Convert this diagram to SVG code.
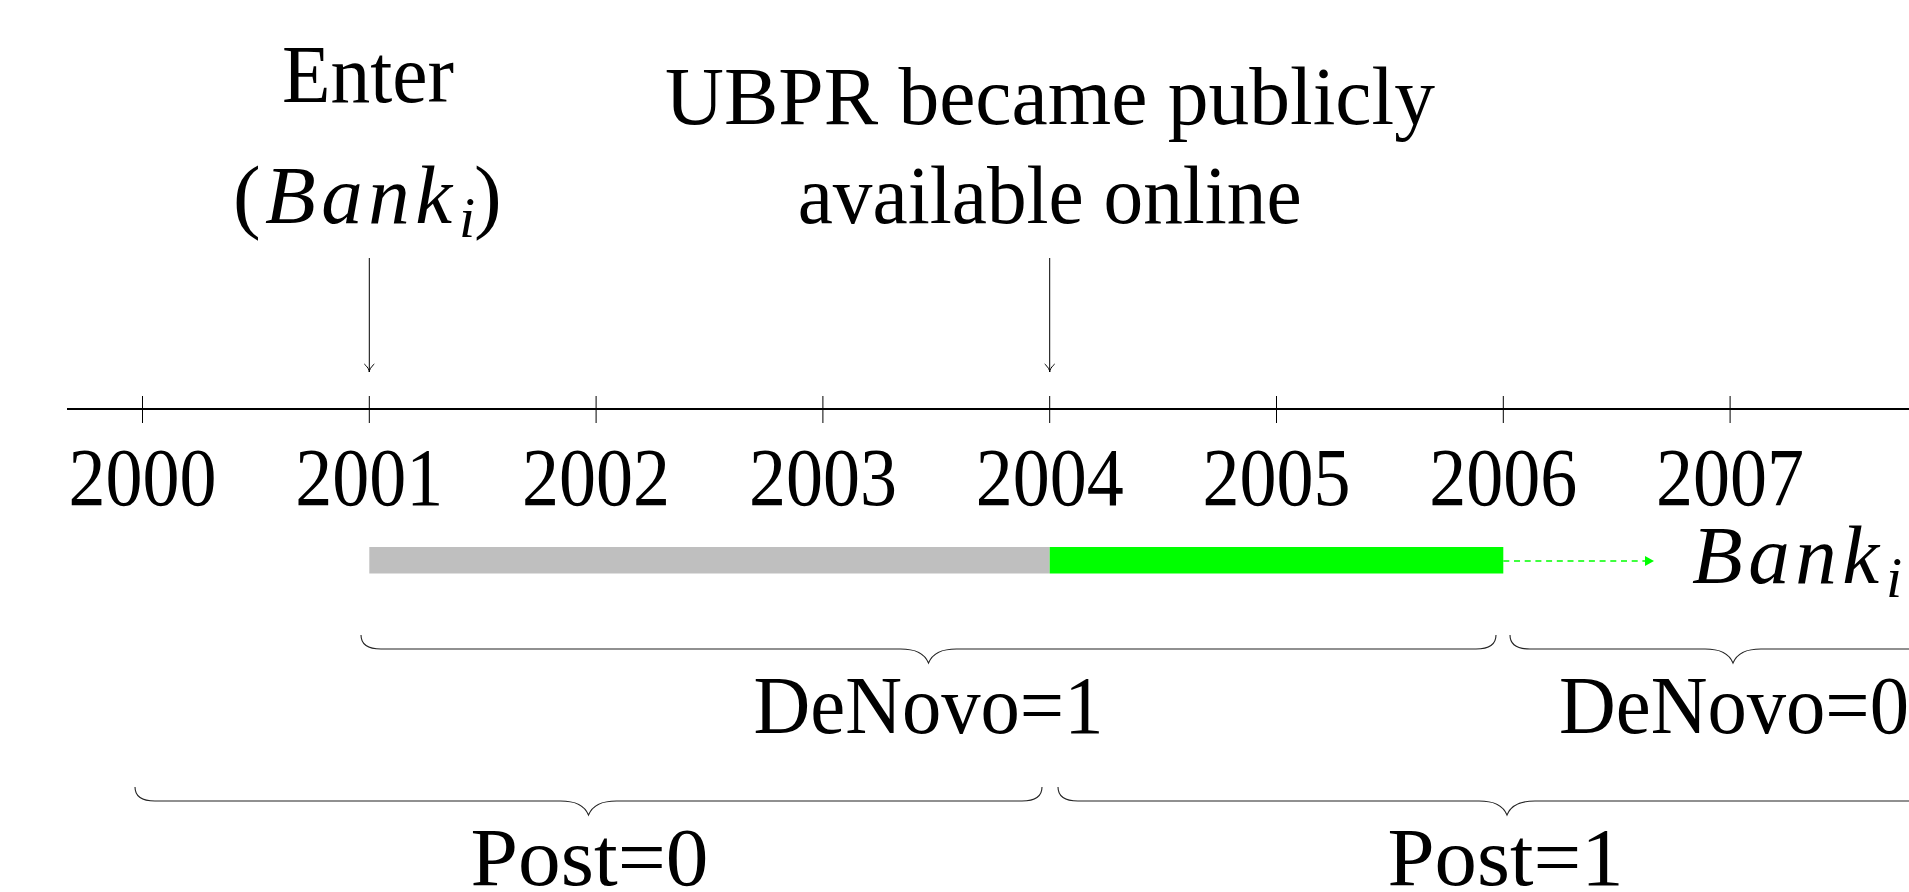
<svg xmlns="http://www.w3.org/2000/svg" width="1909" height="892" viewBox="0 0 1909 892">
<style>
text{font-family:"Liberation Serif","Times New Roman",serif;fill:#000;font-size:83px}
.mid{text-anchor:middle}
.it{font-style:italic}
.bank{font-size:83px;letter-spacing:5.5px}
.sub{font-size:58px;font-style:italic}
.tick{stroke:#000;stroke-width:1}
.brace{fill:none;stroke:#222;stroke-width:1.1}
.arr{stroke:#000;stroke-width:1;fill:none}
</style>
<defs>
<marker id="to" viewBox="-10 -7 12 14" refX="0" refY="0" markerWidth="12" markerHeight="14" markerUnits="userSpaceOnUse" orient="auto">
<path d="M-8,-5 C-5,-1.5 -2,0 0,0 C-2,0 -5,1.5 -8,5" fill="none" stroke="#000" stroke-width="1"/>
</marker>
<marker id="latex" viewBox="0 -6 10 12" refX="0" refY="0" markerWidth="10" markerHeight="12" markerUnits="userSpaceOnUse" orient="auto">
<path d="M0,-5 L9,0 L0,5 Z" fill="#00ff00"/>
</marker>
</defs>

<g id="axis">
<line x1="67" y1="409" x2="1909" y2="409" stroke="#000" stroke-width="2"/>
<line class="tick" x1="142.5" y1="396" x2="142.5" y2="423"/>
<line class="tick" x1="369.3" y1="396" x2="369.3" y2="423"/>
<line class="tick" x1="596.1" y1="396" x2="596.1" y2="423"/>
<line class="tick" x1="822.9" y1="396" x2="822.9" y2="423"/>
<line class="tick" x1="1049.7" y1="396" x2="1049.7" y2="423"/>
<line class="tick" x1="1276.5" y1="396" x2="1276.5" y2="423"/>
<line class="tick" x1="1503.3" y1="396" x2="1503.3" y2="423"/>
<line class="tick" x1="1730.1" y1="396" x2="1730.1" y2="423"/>
</g>

<g id="years">
<text class="mid" x="142.5" y="505" textLength="148" lengthAdjust="spacingAndGlyphs">2000</text>
<text class="mid" x="369.3" y="505" textLength="148" lengthAdjust="spacingAndGlyphs">2001</text>
<text class="mid" x="596.1" y="505" textLength="148" lengthAdjust="spacingAndGlyphs">2002</text>
<text class="mid" x="822.9" y="505" textLength="148" lengthAdjust="spacingAndGlyphs">2003</text>
<text class="mid" x="1049.7" y="505" textLength="148" lengthAdjust="spacingAndGlyphs">2004</text>
<text class="mid" x="1276.5" y="505" textLength="148" lengthAdjust="spacingAndGlyphs">2005</text>
<text class="mid" x="1503.3" y="505" textLength="148" lengthAdjust="spacingAndGlyphs">2006</text>
<text class="mid" x="1730.1" y="505" textLength="148" lengthAdjust="spacingAndGlyphs">2007</text>
</g>

<g id="enter-label">
<text class="mid" x="368" y="102" textLength="172" lengthAdjust="spacingAndGlyphs">Enter</text>
<text y="223"><tspan x="233">(</tspan><tspan class="it bank" x="265">Bank</tspan><tspan class="sub" x="459" y="237">i</tspan><tspan x="474" y="223">)</tspan></text>
</g>

<g id="ubpr-label">
<text class="mid" x="1050" y="124" textLength="770" lengthAdjust="spacingAndGlyphs">UBPR became publicly</text>
<text class="mid" x="1049.7" y="223" textLength="504" lengthAdjust="spacingAndGlyphs">available online</text>
</g>

<g id="bar-gray">
<rect x="369.3" y="547" width="680.4" height="26.5" fill="#bfbfbf"/>
</g>
<g id="bar-green">
<rect x="1049.7" y="547" width="453.6" height="26.5" fill="#00ff00"/>
</g>

<g id="bank-label">
<text y="583"><tspan class="it bank" x="1692">Bank</tspan><tspan class="sub" x="1886" y="597">i</tspan></text>
</g>

<g id="connectors">
<line class="arr" x1="369.3" y1="258" x2="369.3" y2="372" marker-end="url(#to)"/>
<line class="arr" x1="1049.7" y1="258" x2="1049.7" y2="372" marker-end="url(#to)"/>
<line x1="1503.3" y1="561" x2="1645" y2="561" stroke="#00ff00" stroke-width="1.3" stroke-dasharray="6 4.7" marker-end="url(#latex)"/>
</g>

<g id="brace-denovo1">
<path class="brace" d="M361,635 C361,644 368,649 381,649 L900.5,649 C914,649 924,652 928.5,663 C933,652 943,649 956.5,649 L1476,649 C1489,649 1496,644 1496,635"/>
<text class="mid" x="928.5" y="733" textLength="350" lengthAdjust="spacingAndGlyphs">DeNovo=1</text>
</g>
<g id="brace-denovo0">
<path class="brace" d="M1510,635 C1510,644 1517,649 1530,649 L1705,649 C1718.5,649 1728.5,652 1733,663 C1737.5,652 1747.5,649 1761,649 L1936,649 C1949,649 1956,644 1956,635"/>
<text class="mid" x="1734" y="733" textLength="350" lengthAdjust="spacingAndGlyphs">DeNovo=0</text>
</g>
<g id="brace-post0">
<path class="brace" d="M135,787 C135,796 142,801 155,801 L560.5,801 C574,801 584,804 588.5,815 C593,804 603,801 616.5,801 L1022,801 C1035,801 1042,796 1042,787"/>
<text class="mid" x="589.5" y="885" textLength="238" lengthAdjust="spacingAndGlyphs">Post=0</text>
</g>
<g id="brace-post1">
<path class="brace" d="M1058,787 C1058,796 1065,801 1078,801 L1479,801 C1492.5,801 1502.5,804 1507,815 C1511.5,804 1521.5,801 1535,801 L1936,801 C1949,801 1956,796 1956,787"/>
<text class="mid" x="1505.5" y="885" textLength="236" lengthAdjust="spacingAndGlyphs">Post=1</text>
</g>
</svg>
